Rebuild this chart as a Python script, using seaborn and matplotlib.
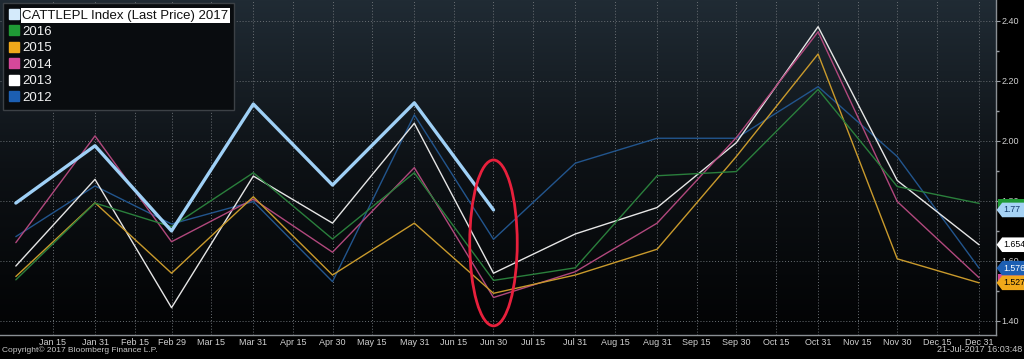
import numpy as np
import pandas as pd
import matplotlib
matplotlib.use("Agg")
import matplotlib.pyplot as plt
import matplotlib.dates as mdates
import matplotlib.transforms as mtransforms
from matplotlib.colors import LinearSegmentedColormap
from matplotlib.lines import Line2D
from matplotlib.patches import Ellipse, Rectangle
from matplotlib.path import Path
import seaborn as sns

# ---------------- data ----------------
dates = ["2016-01-01", "2016-01-31", "2016-02-29", "2016-03-31", "2016-04-30",
         "2016-05-31", "2016-06-30", "2016-07-31", "2016-08-31", "2016-09-30",
         "2016-10-31", "2016-11-30", "2016-12-31"]

s2017 = [1.793, 1.984, 1.700, 2.123, 1.853, 2.127, 1.770]
s2016 = [1.537, 1.793, 1.714, 1.894, 1.673, 1.894, 1.535, 1.577, 1.884, 1.898, 2.172, 1.848, 1.792]
s2015 = [1.548, 1.794, 1.559, 1.814, 1.553, 1.726, 1.492, 1.553, 1.639, 1.948, 2.290, 1.607, 1.527]
s2014 = [1.661, 2.017, 1.664, 1.806, 1.629, 1.911, 1.478, 1.564, 1.726, 2.011, 2.364, 1.798, 1.544]
s2013 = [1.583, 1.872, 1.444, 1.883, 1.726, 2.059, 1.559, 1.690, 1.778, 1.994, 2.381, 1.868, 1.654]
s2012 = [1.681, 1.850, 1.723, 1.798, 1.531, 2.087, 1.672, 1.926, 2.009, 2.009, 2.181, 1.948, 1.576]

labels = ["CATTLEPL Index (Last Price) 2017", "2016", "2015", "2014", "2013", "2012"]
series = [s2017, s2016, s2015, s2014, s2013, s2012]
line_colors = ["#9fd0f6", "#2a7f3c", "#c99a2c", "#b1487d", "#e6e6e6", "#22558d"]
legend_colors = ["#d4eafb", "#1f9a35", "#f0a81a", "#d6489a", "#ffffff", "#1c5fb3"]

tick_dates = ["2016-01-15", "2016-01-31", "2016-02-15", "2016-02-29", "2016-03-15", "2016-03-31",
              "2016-04-15", "2016-04-30", "2016-05-15", "2016-05-31", "2016-06-15", "2016-06-30",
              "2016-07-15", "2016-07-31", "2016-08-15", "2016-08-31", "2016-09-15", "2016-09-30",
              "2016-10-15", "2016-10-31", "2016-11-15", "2016-11-30", "2016-12-15", "2016-12-31"]
tick_labels = ["Jan 15", "Jan 31", "Feb 15", "Feb 29", "Mar 15", "Mar 31", "Apr 15", "Apr 30",
               "May 15", "May 31", "Jun 15", "Jun 30", "Jul 15", "Jul 31", "Aug 15", "Aug 31",
               "Sep 15", "Sep 30", "Oct 15", "Oct 31", "Nov 15", "Nov 30", "Dec 15", "Dec 31"]

y_ticks = [1.40, 1.60, 1.80, 2.00, 2.20, 2.40]

# covered last-value markers (only a sliver shows): value, colour
hidden_tag_values = [1.792, 1.544]
hidden_tag_colors = ["#1f9a35", "#d6489a"]
# visible last-value tags
tag_values = [1.770, 1.654, 1.576, 1.527]
tag_texts = ["1.77", "1.654", "1.576", "1.527"]
tag_faces = ["#a6d3f5", "#ffffff", "#1c5fb3", "#f0a81a"]
tag_fg = ["#123a6a", "#000000", "#ffffff", "#000000"]

# ---------------- figure ----------------
sns.set_theme(style="dark")
plt.rcParams["font.family"] = ["Liberation Sans", "DejaVu Sans"]

fig = plt.figure(figsize=(10.24, 3.59), dpi=100, facecolor="black")
ax = fig.add_axes([0.0, 1 - 335 / 359, 996 / 1024, 335 / 359])

# gradient background
cmap = LinearSegmentedColormap.from_list("bg", ["#020304", "#0d1115", "#202b34"])
ax.imshow(np.linspace(0, 1, 256).reshape(-1, 1), cmap=cmap, origin="lower",
          extent=[0, 1, 0, 1], transform=ax.transAxes, aspect="auto", zorder=0)

d = pd.to_datetime(dates)
order = [5, 4, 3, 2, 1, 0]
for i in order:
    vals = series[i]
    df = pd.DataFrame({"date": d[:len(vals)], "value": vals})
    sns.lineplot(data=df, x="date", y="value", ax=ax, color=line_colors[i],
                 linewidth=2.4 if i == 0 else 1.0, zorder=3 + (6 - i), legend=False)

ax.set_xlim(pd.Timestamp("2015-12-26"), pd.Timestamp("2017-01-06 10:00"))
ax.set_ylim(1.353, 2.47)
ax.set_xlabel("")
ax.set_ylabel("")

ax.set_xticks(pd.to_datetime(tick_dates))
ax.set_xticklabels(tick_labels)
ax.yaxis.tick_right()
ax.set_yticks(y_ticks)
ax.set_yticklabels([f"{v:.2f}" for v in y_ticks])
ax.set_yticks(np.arange(1.4, 2.45, 0.1), minor=True)

ax.tick_params(axis="x", direction="in", length=4, width=0.8, colors="#9a9fa4",
               labelcolor="#d0d0d0", labelsize=6.5, pad=2)
ax.tick_params(axis="y", which="major", direction="out", length=3, width=0.8,
               colors="#9a9fa4", labelcolor="#d0d0d0", labelsize=6.5, pad=1)
ax.tick_params(axis="y", which="minor", direction="out", length=2, colors="#9a9fa4")

ax.grid(True, which="major", color="#6a6f74", linestyle=(0, (1, 2)), linewidth=0.7)
ax.set_axisbelow(False)
for gl in ax.get_xgridlines() + ax.get_ygridlines():
    gl.set_zorder(1)

for s in ["top", "left"]:
    ax.spines[s].set_visible(False)
for s in ["bottom", "right"]:
    ax.spines[s].set_visible(True)
    ax.spines[s].set_color("#8a8f94")
    ax.spines[s].set_linewidth(1.0)

# red ellipse annotation around Jun 30
ec = mdates.date2num(pd.Timestamp("2016-06-30"))
ax.add_patch(Ellipse((ec, 1.66), width=18, height=0.553, fill=False,
                     edgecolor="#e8203c", linewidth=2.0, zorder=20))

# legend
handles = [Line2D([], [], marker="s", linestyle="", markersize=6.5,
                  markerfacecolor=c, markeredgecolor=c) for c in legend_colors]
leg = ax.legend(handles, labels, loc="upper left", bbox_to_anchor=(0.003, 0.99),
                fontsize=9.5, frameon=True, fancybox=False, handlelength=0.7,
                handletextpad=0.3, labelspacing=0.32, borderpad=0.45, borderaxespad=0)
leg.get_frame().set_facecolor("#090c0f")
leg.get_frame().set_edgecolor("#3c4146")
leg.get_frame().set_alpha(1)
leg.set_zorder(30)
for k, t in enumerate(leg.get_texts()):
    t.set_color("#f2f2f2")
    if k == 0:
        t.set_color("#111111")
        t.set_bbox(dict(facecolor="white", edgecolor="none", pad=1.0))


# right-hand last-value tags (pentagon pointing left)
def tag_box(x0, y0, width, height, mutation_size):
    padx = 0.15 * mutation_size
    pady = 0.32 * mutation_size
    h = height + 2 * pady
    tip = 0.38 * h
    left = x0 - padx - tip
    bot = y0 - pady
    right = x0 + width + padx * 8
    verts = [(left, bot + h / 2), (left + tip, bot + h), (right, bot + h),
             (right, bot), (left + tip, bot), (left, bot + h / 2)]
    return Path(verts, closed=True)


trans = mtransforms.blended_transform_factory(ax.transAxes, ax.transData)
for v, c in zip(hidden_tag_values, hidden_tag_colors):
    ax.add_patch(Rectangle((1.002, v - 0.014), 0.03, 0.028, transform=trans,
                           facecolor=c, edgecolor="none", clip_on=False, zorder=35))
for v, txt, fc, fg in zip(tag_values, tag_texts, tag_faces, tag_fg):
    ax.text(1.0075, v, txt, transform=trans, ha="left", va="center", fontsize=6.3,
            color=fg, clip_on=False, zorder=40,
            bbox=dict(boxstyle=tag_box, facecolor=fc, edgecolor="none"))

fig.text(2 / 1024, 5 / 359, "Copyright\u00a9 2017 Bloomberg Finance L.P.",
         fontsize=6.0, color="#c8c8c8", ha="left", va="bottom")
fig.text(1022 / 1024, 5 / 359, "21-Jul-2017 16:03:48",
         fontsize=6.5, color="#c8c8c8", ha="right", va="bottom")

fig.savefig("out.png", dpi=100, facecolor="black")
